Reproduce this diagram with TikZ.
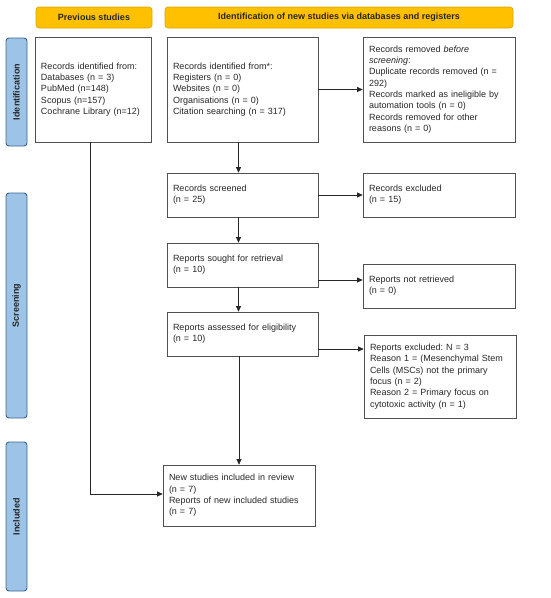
\documentclass[tikz,border=0pt]{standalone}
\usepackage{fontspec}
\setmainfont{Liberation Sans}
\frenchspacing
\usetikzlibrary{arrows.meta}
\definecolor{hdrfill}{HTML}{FFC000}
\definecolor{hdrline}{HTML}{D9A400}
\definecolor{sidefill}{HTML}{9DC3E6}
\definecolor{sideline}{HTML}{3A6892}
\definecolor{boxline}{HTML}{505050}
\definecolor{txt}{HTML}{262626}
\tikzset{
  box/.style={draw=boxline, line width=0.7pt, align=left, inner xsep=6pt, inner ysep=2pt,
    font=\fontsize{9}{11.3}\selectfont, text=txt},
  hdr/.style={draw=hdrline, fill=hdrfill, rounded corners=3pt, line width=0.6pt,
    font=\bfseries\fontsize{9}{11}\selectfont, text=black!85, minimum height=21pt, inner sep=0pt},
  side/.style={draw=sideline, fill=sidefill, rounded corners=3pt, line width=0.9pt, rotate=90,
    font=\bfseries\fontsize{9}{11}\selectfont, text=black!85, minimum height=21pt, inner sep=0pt},
  arr/.style={draw=black!85, line width=0.7pt, -{Triangle[length=5.5pt,width=5pt]}},
}
\begin{document}
\begin{tikzpicture}[x=1pt,y=-1pt]
\useasboundingbox (0,0) rectangle (550,598);
% headers
\node[hdr, minimum width=116pt] (hprev) at (94,17.5) {Previous studies};
\node[hdr, minimum width=348pt] (hnew) at (339,17.5) {Identification of new studies via databases and registers};
% side bars
\node[side, minimum width=108pt] (sid) at (16.5,92) {Identification};
\node[side, minimum width=225pt] (sscr) at (16.5,305.5) {Screening};
\node[side, minimum width=149pt] (sinc) at (16.5,516.5) {Included};
% boxes
\node[box, minimum width=116pt, minimum height=105pt, text width=104pt] (prev) at (93,89.5)
  {Records identified from:\\Databases (n = 3)\\PubMed (n=148)\\Scopus (n=157)\\Cochrane Library (n=12)};
\node[box, minimum width=151pt, minimum height=105pt, text width=139pt] (ident) at (242.5,89.5)
  {Records identified from*:\\Registers (n = 0)\\Websites (n = 0)\\Organisations (n = 0)\\Citation searching (n = 317)};
\node[box, minimum width=152pt, minimum height=105pt, text width=140pt] (removed) at (439,89.5)
  {Records removed \textit{before}\\\textit{screening}:\\Duplicate records removed (n =\\292)\\Records marked as ineligible by\\automation tools (n = 0)\\Records removed for other\\reasons (n = 0)};
\node[box, minimum width=151pt, minimum height=44pt, text width=139pt] (screened) at (242.5,195)
  {Records screened\\(n = 25)};
\node[box, minimum width=152pt, minimum height=44pt, text width=140pt] (excluded) at (439,195)
  {Records excluded\\(n = 15)};
\node[box, minimum width=151pt, minimum height=44pt, text width=139pt] (sought) at (242.5,265)
  {Reports sought for retrieval\\(n = 10)};
\node[box, minimum width=152pt, minimum height=44pt, text width=140pt] (notret) at (439,286)
  {Reports not retrieved\\(n = 0)};
\node[box, minimum width=151pt, minimum height=44pt, text width=139pt] (assessed) at (242.5,334)
  {Reports assessed for eligibility\\(n = 10)};
\node[box, minimum width=152pt, minimum height=83pt, text width=140pt] (rexcl) at (440,376.5)
  {Reports excluded: N = 3\\Reason 1 = (Mesenchymal Stem\\Cells (MSCs) not the primary\\focus (n = 2)\\Reason 2 = Primary focus on\\cytotoxic activity (n = 1)};
\node[box, minimum width=152pt, minimum height=61pt, text width=140pt] (newst) at (239,495.5)
  {New studies included in review\\(n = 7)\\Reports of new included studies\\(n = 7)};
% connectors
\draw[arr] (ident) -- (removed);
\draw[arr] ([xshift=-4pt]ident.south) -- ([xshift=-4pt]ident.south |- screened.north);
\draw[arr] (screened) -- (excluded);
\draw[arr] ([xshift=-4pt]screened.south) -- ([xshift=-4pt]screened.south |- sought.north);
\draw[arr] ([yshift=-15pt]sought.east) -- ([yshift=-15pt]sought.east -| notret.west);
\draw[arr] ([xshift=-4pt]sought.south) -- ([xshift=-4pt]sought.south |- assessed.north);
\draw[arr] ([yshift=-15pt]assessed.east) -- ([yshift=-15pt]assessed.east -| rexcl.west);
\draw[arr] (assessed.south -| newst.north) -- (newst.north);
\draw[arr] ([xshift=-3pt]prev.south) |- ([yshift=1.5pt]newst.west);
\end{tikzpicture}
\end{document}
